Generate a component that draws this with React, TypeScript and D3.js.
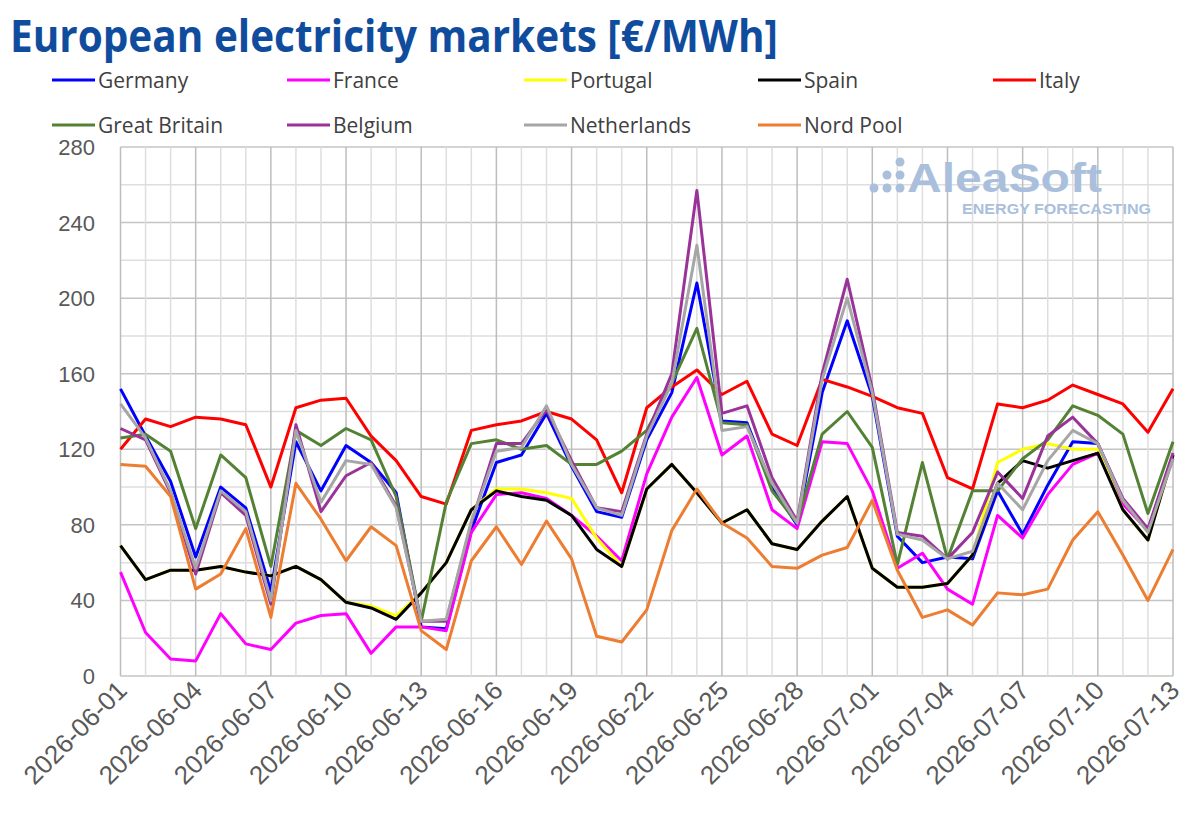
import React from 'react';
import * as d3 from 'd3';

// daily dates, 2026-06-01 .. 2026-07-13
const dates = d3.timeDay.range(new Date(2026, 5, 1), new Date(2026, 6, 14)).map(d3.timeFormat('%Y-%m-%d'));

const germany = [152, 127, 103, 63, 100, 89, 45, 124, 98, 122, 113, 97, 26, 25, 77, 113, 117, 139, 111, 87, 84, 125, 150, 208, 135, 134, 100, 80, 150, 188, 148, 74, 60, 63, 62, 98, 75, 101, 124, 123, 93, 77, 117];
const france = [55, 23, 9, 8, 33, 17, 14, 28, 32, 33, 12, 26, 26, 24, 76, 96, 97, 94, 85, 74, 61, 107, 137, 158, 117, 127, 88, 78, 124, 123, 98, 57, 65, 46, 38, 85, 73, 96, 112, 118, 91, 77, 115];
const portugal = [69, 51, 56, 56, 58, 55, 53, 58, 51, 39, 37, 32, 44, 60, 88, 99, 99, 97, 94, 73, 58, 99, 112, 97, 81, 88, 70, 67, 82, 95, 57, 47, 47, 49, 64, 113, 120, 123, 120, 120, 88, 72, 117];
const spain = [69, 51, 56, 56, 58, 55, 53, 58, 51, 39, 36, 30, 44, 60, 88, 98, 95, 93, 85, 67, 58, 99, 112, 97, 81, 88, 70, 67, 82, 95, 57, 47, 47, 49, 64, 102, 114, 110, 114, 118, 88, 72, 117];
const italy = [120, 136, 132, 137, 136, 133, 100, 142, 146, 147, 127, 114, 95, 91, 130, 133, 135, 140, 136, 125, 97, 142, 153, 162, 149, 156, 128, 122, 157, 153, 148, 142, 139, 105, 99, 144, 142, 146, 154, 149, 144, 129, 152];
const greatBritain = [126, 128, 119, 78, 117, 105, 58, 130, 122, 131, 125, 95, 29, 92, 123, 125, 120, 122, 112, 112, 119, 130, 155, 184, 134, 133, 98, 81, 128, 140, 121, 59, 113, 62, 98, 98, 115, 125, 143, 138, 128, 86, 124];
const belgium = [131, 125, 97, 54, 97, 85, 38, 133, 87, 106, 113, 90, 29, 29, 81, 123, 123, 141, 114, 89, 87, 128, 160, 257, 139, 143, 105, 82, 160, 210, 152, 76, 74, 62, 76, 108, 94, 127, 137, 123, 94, 78, 118];
const netherlands = [144, 126, 98, 57, 98, 87, 40, 130, 92, 114, 112, 89, 29, 30, 82, 119, 121, 143, 112, 89, 85, 127, 155, 228, 130, 132, 102, 81, 157, 200, 150, 75, 72, 62, 66, 102, 88, 114, 130, 123, 93, 76, 115];
const nordPool = [112, 111, 95, 46, 54, 78, 31, 102, 83, 61, 79, 69, 24, 14, 61, 79, 59, 82, 62, 21, 18, 35, 77, 99, 81, 73, 58, 57, 64, 68, 93, 56, 31, 35, 27, 44, 43, 46, 72, 87, 64, 40, 67];

const seriesNames = ['Germany', 'France', 'Portugal', 'Spain', 'Italy', 'Great Britain', 'Belgium', 'Netherlands', 'Nord Pool'];
const seriesValues = [germany, france, portugal, spain, italy, greatBritain, belgium, netherlands, nordPool];
const seriesColors = ['#0000ff', '#ff00ff', '#ffff00', '#000000', '#ff0000', '#548235', '#993399', '#a6a6a6', '#ed7d31'];

const yTicks = [0, 40, 80, 120, 160, 200, 240, 280];

const App = () => {
  const width = 1200, height = 837;
  const left = 120.5, right = 1173, top = 147, bottom = 676;

  const x = d3.scaleLinear().domain([0, dates.length - 1]).range([left, right]);
  const y = d3.scaleLinear().domain([0, 280]).range([bottom, top]);
  const line = d3.line<number>().x((d, i) => x(i)).y(d => y(d));

  const minorY = d3.range(0, 281, 20);
  const font = 'Open Sans, Liberation Sans, sans-serif';

  // legend slots: 5 per row
  const legendX = [52, 287, 524, 758, 993];
  const legendY = [80, 125];

  return (
    <svg width={width} height={height} style={{ position: 'absolute', left: 0, top: 0, background: '#fff' }}>
      <text x={10} y={52} fontFamily={font} fontWeight="bold" fontSize={45} fill="#104c9e"
        textLength={768} lengthAdjust="spacingAndGlyphs">European electricity markets [€/MWh]</text>

      {seriesNames.map((name, i) => {
        const lx = legendX[i % 5], ly = legendY[Math.floor(i / 5)];
        return (
          <g key={name}>
            <line x1={lx} x2={lx + 43} y1={ly} y2={ly} stroke={seriesColors[i]} strokeWidth={3} />
            <text x={lx + 46} y={ly + 8} fontFamily={font} fontSize={21} fill="#404040">{name}</text>
          </g>
        );
      })}

      {/* grid */}
      {minorY.map(v => (
        <line key={'h' + v} x1={left} x2={right} y1={y(v)} y2={y(v)}
          stroke={v % 40 === 0 ? '#c4c4c4' : '#dedede'} strokeWidth={1.5} />
      ))}
      {dates.map((d, i) => (
        <line key={'v' + i} x1={x(i)} x2={x(i)} y1={top} y2={bottom}
          stroke={i % 3 === 0 ? '#bdbdbd' : '#dedede'} strokeWidth={1.5} />
      ))}

      {/* watermark */}
      <g fill="#a9bfdc">
        <circle cx={874} cy={188} r={4.5} />
        <circle cx={887} cy={188} r={4.5} />
        <circle cx={887} cy={175} r={4.5} />
        <circle cx={900} cy={188} r={4.5} />
        <circle cx={900} cy={175} r={4.5} />
        <circle cx={900} cy={162} r={4.5} />
        <text x={907} y={192} fontFamily="Liberation Sans, Arial, sans-serif" fontWeight="bold" fontSize={40}
          textLength={195} lengthAdjust="spacingAndGlyphs">AleaSoft</text>
        <text x={962} y={214} fontFamily="Liberation Sans, Arial, sans-serif" fontWeight="bold" fontSize={14}
          textLength={189} lengthAdjust="spacingAndGlyphs">ENERGY FORECASTING</text>
      </g>

      {yTicks.map(v => (
        <text key={'y' + v} x={95} y={y(v) + 8} textAnchor="end" fontFamily="Liberation Sans, Arial, sans-serif"
          fontSize={22} fill="#595959">{v}</text>
      ))}

      {dates.map((d, i) => i % 3 === 0 ? (
        <text key={'x' + i} transform={`translate(${x(i) + 8},${bottom + 16}) rotate(-45)`} textAnchor="end"
          fontFamily="Liberation Sans, Arial, sans-serif" fontSize={26} fill="#595959">{d}</text>
      ) : null)}

      {seriesValues.map((vals, i) => (
        <path key={seriesNames[i]} d={line(vals) || ''} fill="none" stroke={seriesColors[i]}
          strokeWidth={3} strokeLinejoin="round" />
      ))}
    </svg>
  );
};

export default App;
